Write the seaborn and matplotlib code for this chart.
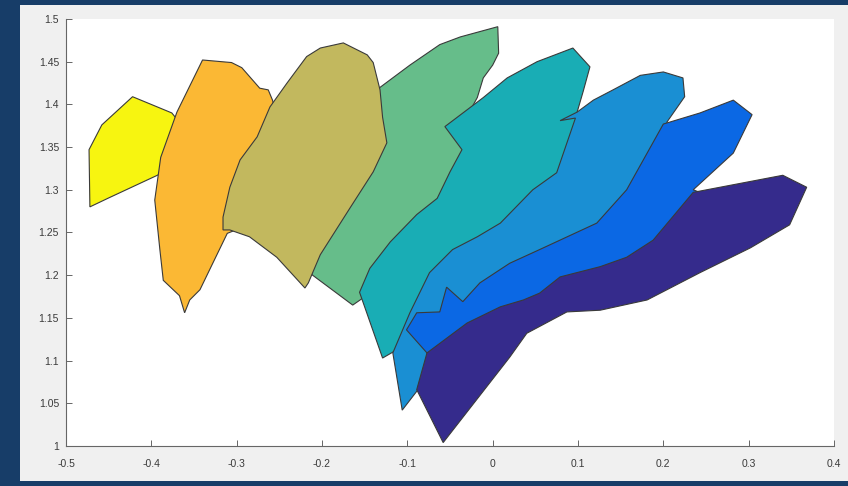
import matplotlib
matplotlib.use("Agg")
import matplotlib.pyplot as plt
from matplotlib.patches import Rectangle
import seaborn as sns

# polygon outlines (data units)
yellow_x = [-0.472, -0.473, -0.458, -0.422, -0.376, -0.355, -0.361, -0.393, -0.451]
yellow_y = [1.280, 1.347, 1.376, 1.409, 1.390, 1.364, 1.335, 1.317, 1.290]

orange_x = [-0.340, -0.306, -0.294, -0.273, -0.263, -0.258, -0.249, -0.270, -0.296, -0.311,
            -0.328, -0.343, -0.355, -0.361, -0.367, -0.386, -0.390, -0.396, -0.389, -0.370]
orange_y = [1.452, 1.449, 1.443, 1.419, 1.417, 1.405, 1.370, 1.312, 1.255, 1.249,
            1.214, 1.183, 1.171, 1.156, 1.176, 1.194, 1.230, 1.288, 1.338, 1.391]

green_x = [-0.144, -0.097, -0.062, -0.038, 0.006, 0.007, 0.000, -0.011, -0.018, -0.023,
           -0.021, -0.044, -0.097, -0.138, -0.164, -0.211, -0.226, -0.179]
green_y = [1.411, 1.446, 1.470, 1.479, 1.491, 1.460, 1.446, 1.431, 1.408, 1.399,
           1.358, 1.288, 1.230, 1.183, 1.165, 1.200, 1.218, 1.312]

olive_x = [-0.175, -0.147, -0.140, -0.132, -0.129, -0.124, -0.140, -0.167, -0.202, -0.216,
           -0.220, -0.253, -0.285, -0.308, -0.316, -0.316, -0.308, -0.296, -0.276, -0.261,
           -0.241, -0.218, -0.202]
olive_y = [1.472, 1.458, 1.449, 1.417, 1.385, 1.355, 1.321, 1.279, 1.224, 1.191,
           1.185, 1.221, 1.245, 1.253, 1.253, 1.268, 1.303, 1.335, 1.362, 1.397,
           1.425, 1.456, 1.466]

teal_x = [-0.056, -0.011, 0.017, 0.052, 0.094, 0.114, 0.106, 0.099, 0.114, 0.085,
          0.020, -0.062, -0.103, -0.129, -0.156, -0.144, -0.120, -0.089, -0.065, -0.050, -0.036]
teal_y = [1.374, 1.408, 1.431, 1.450, 1.466, 1.444, 1.415, 1.391, 1.370, 1.300,
          1.247, 1.183, 1.118, 1.103, 1.180, 1.208, 1.239, 1.271, 1.290, 1.321, 1.347]

lightblue_x = [0.079, 0.099, 0.118, 0.141, 0.173, 0.200, 0.223, 0.225, 0.204, 0.220,
               0.184, 0.102, 0.009, -0.062, -0.079, -0.106, -0.117, -0.097, -0.074, -0.047,
               -0.018, 0.009, 0.047, 0.075, 0.097]
lightblue_y = [1.381, 1.391, 1.405, 1.417, 1.434, 1.438, 1.431, 1.409, 1.379, 1.347,
               1.276, 1.218, 1.171, 1.124, 1.077, 1.042, 1.109, 1.156, 1.203, 1.230,
               1.245, 1.261, 1.300, 1.320, 1.384]

blue_x = [0.200, 0.243, 0.282, 0.304, 0.282, 0.235, 0.266, 0.184, 0.079, -0.015,
          -0.074, -0.077, -0.101, -0.089, -0.062, -0.054, -0.035, -0.015, 0.020, 0.055,
          0.122, 0.157]
blue_y = [1.377, 1.390, 1.405, 1.388, 1.343, 1.300, 1.288, 1.218, 1.171, 1.124,
          1.077, 1.109, 1.136, 1.156, 1.157, 1.186, 1.169, 1.191, 1.214, 1.230,
          1.261, 1.300]

purple_x = [-0.077, -0.030, 0.009, 0.036, 0.055, 0.079, 0.126, 0.157, 0.188, 0.235,
            0.340, 0.368, 0.348, 0.302, 0.243, 0.181, 0.126, 0.087, 0.040, 0.020,
            -0.058, -0.089]
purple_y = [1.109, 1.144, 1.163, 1.171, 1.179, 1.198, 1.210, 1.221, 1.241, 1.297,
            1.317, 1.303, 1.259, 1.232, 1.203, 1.171, 1.159, 1.157, 1.132, 1.104,
            1.004, 1.066]

x_ticks = [-0.5, -0.4, -0.3, -0.2, -0.1, 0, 0.1, 0.2, 0.3, 0.4]
x_labels = ["-0.5", "-0.4", "-0.3", "-0.2", "-0.1", "0", "0.1", "0.2", "0.3", "0.4"]
y_ticks = [1, 1.05, 1.1, 1.15, 1.2, 1.25, 1.3, 1.35, 1.4, 1.45, 1.5]
y_labels = ["1", "1.05", "1.1", "1.15", "1.2", "1.25", "1.3", "1.35", "1.4", "1.45", "1.5"]

# drawing order = stacking order (later ones on top)
shapes = [
    (yellow_x, yellow_y, "#f7f510"),
    (orange_x, orange_y, "#fbb834"),
    (green_x, green_y, "#66bd8a"),
    (olive_x, olive_y, "#c2b85e"),
    (teal_x, teal_y, "#19adb5"),
    (lightblue_x, lightblue_y, "#1a8fd3"),
    (blue_x, blue_y, "#0b68e4"),
    (purple_x, purple_y, "#352b8c"),
]

sns.set_theme(style="white")
plt.rcParams["font.family"] = ["Liberation Sans", "DejaVu Sans"]

fig = plt.figure(figsize=(8.48, 4.86), dpi=100)
fig.patch.set_facecolor("#173d68")
fig.add_artist(Rectangle((20 / 848, 5 / 486), 1, 476 / 486, transform=fig.transFigure,
                         facecolor="#f0f0f0", edgecolor="none", zorder=-5))

ax = fig.add_axes([66 / 848, 1 - 446 / 486, 768 / 848, 427 / 486])
ax.set_facecolor("white")

for i, (xs, ys, col) in enumerate(shapes):
    ax.fill(xs, ys, facecolor=col, edgecolor="#3a3a3a", linewidth=0.8, zorder=i + 1)

ax.set_xlim(-0.5, 0.4)
ax.set_ylim(1, 1.5)
ax.set_xticks(x_ticks, x_labels)
ax.set_yticks(y_ticks, y_labels)
sns.despine(ax=ax)
for side in ("left", "bottom"):
    ax.spines[side].set_color("#666666")
    ax.spines[side].set_linewidth(0.8)
ax.tick_params(direction="in", length=4, width=0.7, colors="#666666",
               labelcolor="#3a3a3a", labelsize=7.5, bottom=True, left=True)
ax.tick_params(axis="x", pad=9)
ax.tick_params(axis="y", pad=5)

fig.savefig("out.png", dpi=100, facecolor=fig.get_facecolor())
